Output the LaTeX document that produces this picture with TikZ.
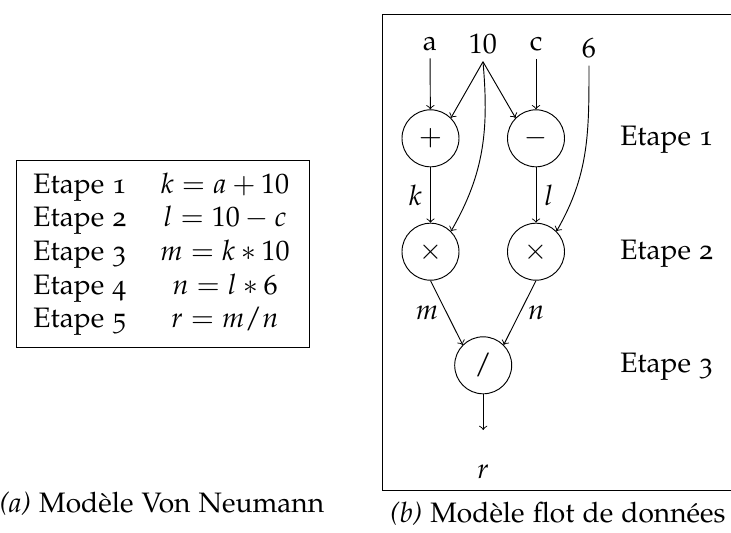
\documentclass[tikz,border=0pt]{standalone}
\usepackage[T1]{fontenc}
\usepackage[osf]{mathpazo}

\tikzset{
  op/.style={draw,circle,minimum size=8.55mm,inner sep=0pt},
  etape/.style={anchor=base west,inner sep=0pt},
  eq/.style={anchor=base,inner sep=0pt},
}

\begin{document}
\begin{tikzpicture}[x=0.15mm,y=-0.15mm,font=\fontsize{12}{14.4}\selectfont]
  \useasboundingbox (0,0) rectangle (731,532);
  % (a) Von Neumann
  \draw (16,160) rectangle (309,347);
  \node[etape] (e1) at (33,193) {Etape 1};
  \node[etape] (e2) at (33,226.7) {Etape 2};
  \node[etape] (e3) at (33,260.4) {Etape 3};
  \node[etape] (e4) at (33,294.1) {Etape 4};
  \node[etape] (e5) at (33,327.8) {Etape 5};
  \node[eq] (q1) at (225,193) {$k = a + 10$};
  \node[eq] (q2) at (225,226.7) {$l = 10 - c$};
  \node[eq] (q3) at (225,260.4) {$m = k * 10$};
  \node[eq] (q4) at (225,294.1) {$n = l * 6$};
  \node[eq] (q5) at (225,327.8) {$r = m/n$};
  \node[anchor=base] (capa) at (162,512) {\textit{(a)} Mod\`ele Von Neumann};

  % (b) flot de donnees
  \draw (731,14) -| (382,490) -- (731,490);
  \node[anchor=base] (a) at (430,50) {a};
  \node[anchor=base] (ten) at (483,53) {$10$};
  \node[anchor=base] (c) at (536,50) {c};
  \node[anchor=base] (six) at (589,57) {$6$};
  \node[op] (add) at (430.5,138.3) {$+$};
  \node[op] (sub) at (536,138.3) {$-$};
  \node[op] (mulk) at (430.5,251.7) {$\times$};
  \node[op] (mull) at (536,251.7) {$\times$};
  \node[op] (div) at (483.2,365.3) {$/$};
  \coordinate (rout) at (483.2,430);
  \node[anchor=base] (r) at (483.2,478) {$r$};
  \node[anchor=west] (s1) at (612,140) {Etape 1};
  \node[anchor=west] (s2) at (612,254) {Etape 2};
  \node[anchor=west] (s3) at (612,367) {Etape 3};
  \draw[->] (a) -- (add);
  \draw[->] (c) -- (sub);
  \draw[->] (ten.south) -- (add.north east);
  \draw[->] (ten.south) -- (sub.north west);
  \draw[->] (ten.south) to[out=-85,in=60] (mulk.north east);
  \draw[->] (six.south) to[out=-90,in=60] (mull.north east);
  \draw[->] (add) -- node[left] {$k$} (mulk);
  \draw[->] (sub) -- node[right] {$l$} (mull);
  \draw[->] (mulk.south) -- node[left] {$m$} (div.north west);
  \draw[->] (mull.south) -- node[right] {$n$} (div.north east);
  \draw[->] (div) -- (rout);
  \node[anchor=base] (capb) at (558,522) {\textit{(b)} Mod\`ele flot de donn\'ees};
\end{tikzpicture}
\end{document}
